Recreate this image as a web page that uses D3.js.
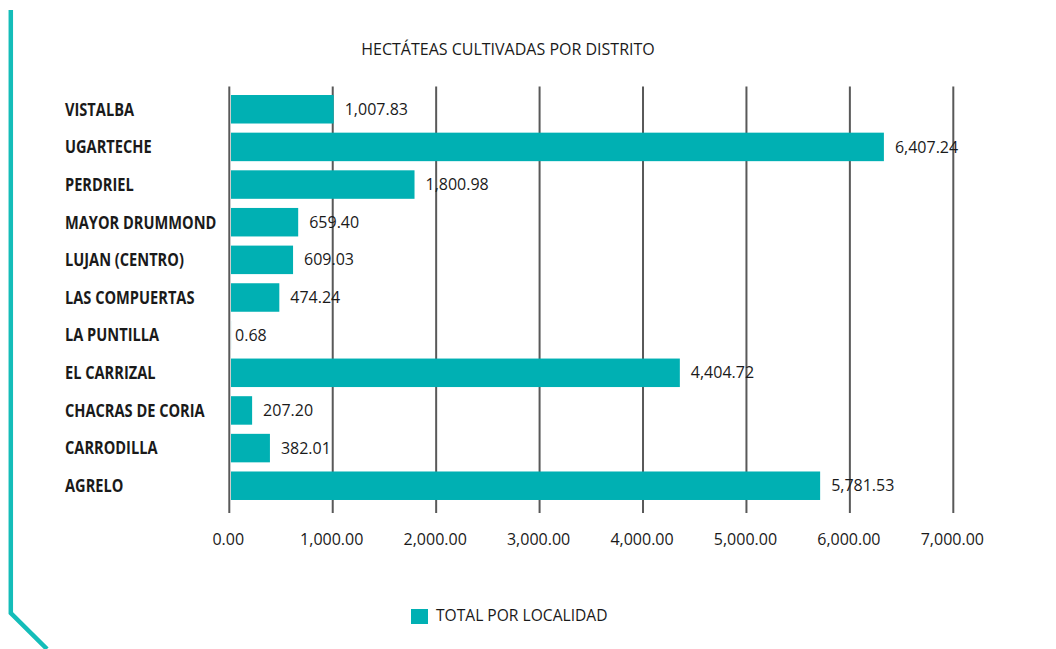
<!DOCTYPE html>
<html>
<head>
<meta charset="utf-8">
<script src="https://cdn.jsdelivr.net/npm/d3@7"></script>
<style>
  body { margin: 0; background: #fff; }
  svg text { font-family: "Open Sans", "Noto Sans", sans-serif; fill: #1a1a1a; }
</style>
</head>
<body>
<div id="Diagram"></div>
<script>
var districts = ["VISTALBA", "UGARTECHE", "PERDRIEL", "MAYOR DRUMMOND", "LUJAN (CENTRO)",
  "LAS COMPUERTAS", "LA PUNTILLA", "EL CARRIZAL", "CHACRAS DE CORIA", "CARRODILLA", "AGRELO"];
var hectares = [1007.83, 6407.24, 1800.98, 659.40, 609.03, 474.24, 0.68, 4404.72, 207.20, 382.01, 5781.53];
var xTicks = [0, 1000, 2000, 3000, 4000, 5000, 6000, 7000];
var chartTitle = "HECTÁTEAS CULTIVADAS POR DISTRITO";
var seriesName = "TOTAL POR LOCALIDAD";

var width = 1056, height = 649;
var teal = "#00b0b3";
var fmt = d3.format(",.2f");

var svg = d3.select("#Diagram").append("svg")
  .attr("width", width).attr("height", height);

// decorative border on the left
svg.append("path")
  .attr("d", "M10.8,10 L10.8,613 L47,649")
  .attr("fill", "none")
  .attr("stroke", "#14bdb9")
  .attr("stroke-width", 4.5);

// gridline scale and bar scale (the bars in the original sit slightly off the grid)
var x = d3.scaleLinear().domain([0, 7000]).range([229.3, 953.3]);
var xBar = d3.scaleLinear().domain([0, 7000]).range([231, 944.3]);
var y = d3.scaleBand().domain(districts).range([85.6, 509.4]).paddingInner(0.243).paddingOuter(0.25);

// title
svg.append("text")
  .attr("x", 508).attr("y", 55)
  .attr("text-anchor", "middle")
  .style("font-size", "16px")
  .text(chartTitle);

// gridlines
svg.append("g")
  .selectAll("line")
  .data(xTicks)
  .enter().append("line")
  .attr("x1", function(d) { return x(d); })
  .attr("x2", function(d) { return x(d); })
  .attr("y1", 86.5).attr("y2", 513)
  .attr("stroke", "#595959")
  .attr("stroke-width", 2);

// x axis labels
var xAxis = svg.append("g")
  .attr("transform", "translate(-1.5,539)")
  .call(d3.axisBottom(x).tickValues(xTicks).tickFormat(fmt).tickSize(0).tickPadding(0));
xAxis.select(".domain").remove();
xAxis.selectAll("text")
  .attr("dy", "0.35em")
  .style("font-size", "16px")
  .style("font-family", "\"Open Sans\", sans-serif")
  .attr("fill", "#1a1a1a");

// bars
var rows = districts.map(function(d, i) { return { name: d, value: hectares[i] }; });
svg.append("g")
  .selectAll("rect")
  .data(rows)
  .enter().append("rect")
  .attr("x", xBar(0))
  .attr("y", function(d) { return y(d.name); })
  .attr("width", function(d) { return Math.max(0, xBar(d.value) - xBar(0)); })
  .attr("height", y.bandwidth())
  .attr("fill", teal);

// value labels
svg.append("g")
  .selectAll("text")
  .data(rows)
  .enter().append("text")
  .attr("x", function(d) { return xBar(d.value) + (d.value < 10 ? 4 : 11); })
  .attr("y", function(d) { return y(d.name) + y.bandwidth() / 2; })
  .attr("dy", "0.35em")
  .style("font-size", "16px")
  .text(function(d) { return fmt(d.value); });

// category labels (condensed bold look)
svg.append("g")
  .selectAll("text")
  .data(districts)
  .enter().append("text")
  .attr("transform", function(d) {
    return "translate(65," + (y(d) + y.bandwidth() / 2) + ") scale(0.835,1)";
  })
  .attr("dy", "0.36em")
  .style("font-size", "17.5px")
  .style("font-weight", "bold")
  .text(function(d) { return d; });

// legend
svg.append("rect")
  .attr("x", 411).attr("y", 609).attr("width", 17).attr("height", 15)
  .attr("fill", teal);
svg.append("text")
  .attr("x", 436).attr("y", 616)
  .attr("dy", "0.35em")
  .style("font-size", "15.6px")
  .text(seriesName);
</script>
</body>
</html>
